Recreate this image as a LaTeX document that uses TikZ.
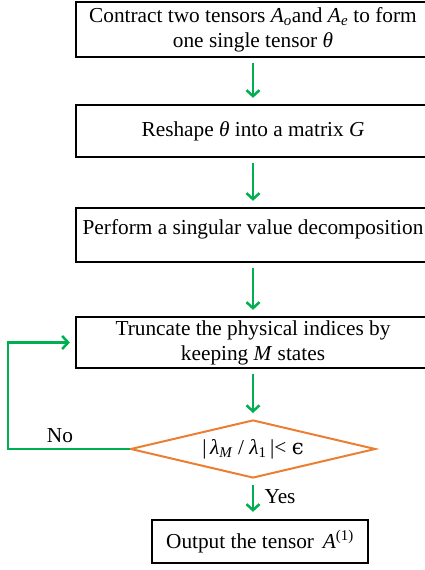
\documentclass[tikz,border=0pt]{standalone}
\usepackage{fontspec}
\setmainfont{Liberation Serif}
\newfontfamily\dvs{DejaVu Serif}
\usetikzlibrary{arrows.meta,shapes.geometric}
\definecolor{flowgreen}{RGB}{0,176,80}
\definecolor{floworange}{RGB}{237,125,49}
\tikzset{
  stepbox/.style={draw=black, line width=2.3pt, minimum width=354pt, align=center, inner sep=1pt},
  decbox/.style={draw=floworange, line width=2pt, diamond, shape aspect=4.2, minimum width=245pt, minimum height=58pt, inner sep=0pt},
  flowarrow/.style={draw=flowgreen, line width=2.5pt, -{Straight Barb[length=6pt,width=13pt,line width=2.5pt]}},
}
\begin{document}
\begin{tikzpicture}[x=1pt,y=1pt,font=\fontsize{21.3}{25}\selectfont]
\useasboundingbox (0,0) rectangle (425,570);
\node[stepbox, minimum height=55pt] (b1) at (253,540.5)
  {Contract two tensors \textit{A}\textsubscript{\textit{o}}and \textit{A}\textsubscript{\textit{e}} to form\\one single tensor \textit{θ}};
\node[stepbox, minimum height=52pt] (b2) at (253,439)
  {Reshape \textit{θ} into a matrix \textit{G}};
\node[stepbox, minimum height=54pt] (b3) at (253,335)
  {\raisebox{6pt}[\height][\depth]{Perform a singular value decomposition}};
\node[stepbox, minimum height=51pt] (b4) at (253,227.5)
  {Truncate the physical indices by\\keeping \textit{M} states};
\node[decbox] (d) at (253,121)
  {|\,\textit{λ}\textsubscript{\textit{M}} / \textit{λ}\textsubscript{1}\,|< {\dvs ϵ}};
\node[draw=black, line width=2.3pt, minimum width=216pt, minimum height=43pt, inner sep=1pt] (out) at (260,28.5)
  {Output the tensor \,\textit{A}\textsuperscript{(1)}};
\coordinate (lb) at (8,121);
\coordinate (lt) at (8,227.5);
\path[flowarrow, shorten <=5pt, shorten >=6pt] (b1) -- (b2);
\path[flowarrow, shorten <=5pt, shorten >=6pt] (b2) -- (b3);
\path[flowarrow, shorten <=5pt, shorten >=6pt] (b3) -- (b4);
\path[flowarrow, shorten <=5pt, shorten >=6pt] (b4) -- (d);
\path[flowarrow, shorten <=6pt, shorten >=7pt] (d.south) -- (d.south |- out.north);
\path[flowarrow, shorten >=5pt] (d.west) -- (lb) -- (lt) -- (b4.west);
\node (no) at (60,134) {No};
\node (yes) at (280,73) {Yes};
\end{tikzpicture}
\end{document}
